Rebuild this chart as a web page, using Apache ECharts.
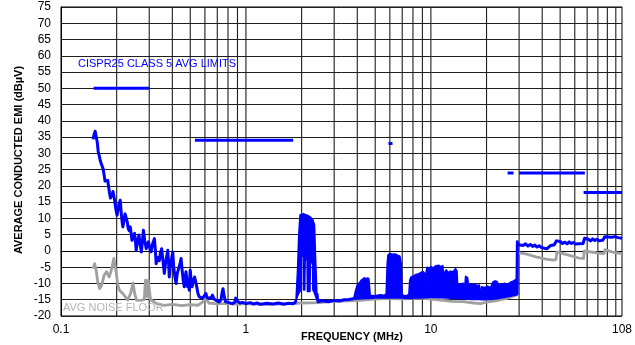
<!DOCTYPE html>
<html>
<head>
<meta charset="utf-8">
<script src="https://cdn.jsdelivr.net/npm/echarts@6.0.0/dist/echarts.min.js"></script>
<style>
  html, body { margin: 0; padding: 0; background: #fff; }
  #chart { width: 635px; height: 345px; }
</style>
</head>
<body>
<div id="chart"></div>
<script>
// Axis setup (frequency in MHz, level in dBµV)
var freqMin = 0.1, freqMax = 108;
var levelMin = -20, levelMax = 75, levelStep = 5;
var freqTickLabels = [0.1, 1, 10, 108];
var gridFreqs = [0.2, 0.3, 0.4, 0.5, 0.6, 0.7, 0.8, 0.9, 1,
                 2, 3, 4, 5, 6, 7, 8, 9, 10,
                 20, 30, 40, 50, 60, 70, 80, 90, 100];

// CISPR25 class 5 average limit segments [freq, level]
var limitLW = [[0.15, 50], [0.30, 50]];
var limitMW = [[0.53, 34], [1.8, 34]];
var limitSW = [[5.9, 33], [6.2, 33]];
var limitCB = [[26, 24], [28, 24]];
var limitVHF = [[30, 24], [68, 24]];
var limitFM = [[67, 18], [108, 18]];

// Measured average emission, low band trace [freq, level]
var traceLow = [
  [0.149, 34.3], [0.151, 35.8], [0.153, 36.8], [0.155, 36.2], [0.157, 33.5], [0.159, 30.5],
  [0.161, 29.2], [0.163, 27.8], [0.165, 26.9], [0.167, 26.6], [0.169, 25.2], [0.171, 23.4],
  [0.173, 21.5], [0.175, 21.2], [0.177, 22.1], [0.179, 21.7], [0.181, 19.6], [0.183, 17.8],
  [0.185, 16.3], [0.187, 16.1], [0.189, 17.3], [0.191, 18.3], [0.193, 17.8], [0.195, 15.6],
  [0.198, 12.8], [0.201, 11.0], [0.203, 11.2], [0.206, 14.4], [0.209, 15.6], [0.211, 12.6],
  [0.214, 9.0], [0.216, 7.4], [0.219, 9.2], [0.222, 11.4], [0.225, 12.0], [0.228, 9.0],
  [0.231, 6.9], [0.234, 6.2], [0.237, 7.4], [0.240, 5.0], [0.242, 3.3], [0.246, 4.6],
  [0.250, 5.4], [0.253, 2.6], [0.255, 0.2], [0.259, 2.8], [0.264, 4.9], [0.268, 2.0],
  [0.272, -0.3], [0.276, 3.4], [0.279, 6.4], [0.284, 3.0], [0.289, 0.7], [0.293, 1.8],
  [0.297, 2.8], [0.302, 1.0], [0.307, -0.3], [0.313, 2.2], [0.320, 3.8], [0.324, 0.0],
  [0.327, -3.9], [0.333, -2.0], [0.340, -3.0], [0.345, -0.5], [0.350, 0.7], [0.356, -3.0],
  [0.362, -6.9], [0.367, -4.0], [0.372, -2.0], [0.378, 0.2], [0.382, -4.0], [0.385, -8.0],
  [0.390, -5.0], [0.396, -2.5], [0.402, -0.3], [0.407, -5.0], [0.413, -8.0], [0.419, -10.0],
  [0.425, -7.0], [0.432, -5.5], [0.440, -4.0], [0.446, -2.3], [0.452, -6.0], [0.458, -9.0],
  [0.464, -11.0], [0.469, -8.5], [0.474, -6.4], [0.479, -9.0], [0.484, -11.0], [0.489, -10.0],
  [0.494, -12.1], [0.497, -8.0], [0.500, -5.9], [0.505, -9.0], [0.512, -11.0], [0.520, -9.0],
  [0.528, -8.0], [0.536, -7.5], [0.542, -11.0], [0.550, -13.0], [0.559, -14.1], [0.570, -13.5],
  [0.582, -14.5], [0.595, -13.8], [0.607, -13.1], [0.618, -14.5], [0.632, -15.1], [0.645, -14.5],
  [0.659, -13.6], [0.672, -14.8], [0.690, -15.2], [0.716, -15.7], [0.733, -15.0], [0.745, -12.5],
  [0.752, -11.6], [0.760, -13.5], [0.775, -15.6], [0.800, -15.8], [0.844, -16.2], [0.870, -15.8],
  [0.880, -14.5], [0.887, -14.1], [0.895, -15.4], [0.930, -16.0], [0.960, -15.8], [1.00, -16.2],
  [1.05, -15.9], [1.10, -16.3], [1.15, -16.0], [1.20, -16.4], [1.30, -16.1], [1.40, -16.3],
  [1.50, -16.0], [1.60, -16.4], [1.70, -16.1], [1.80, -16.2], [1.85, -15.8], [1.865, -15.1]
];

// Switching burst near 2 MHz [freq, upper, lower]
var burstBand = [
  [1.865, -15.1, -15.3], [1.90, -6.0, -14.0], [1.93, 5.0, -13.0], [1.96, 11.0, -12.5],
  [1.98, 11.2, -12.0], [1.99, 11.3, -2.0], [2.04, 11.4, -1.0], [2.05, 11.5, -12.0],
  [2.08, 11.2, -12.0], [2.09, 11.2, -3.0], [2.14, 11.0, -2.0], [2.15, 11.0, -12.5],
  [2.22, 10.5, -12.5], [2.23, 10.4, -4.0], [2.29, 9.8, -3.0], [2.30, 9.6, -12.0],
  [2.35, 8.0, -13.0], [2.38, -2.0, -14.0], [2.42, -13.0, -15.0]
];

// Trace between the burst and the HF activity [freq, level]
var traceMid = [
  [2.42, -13.0], [2.45, -15.6], [2.6, -15.3], [2.8, -15.6], [3.0, -15.2], [3.2, -15.4],
  [3.4, -15.0], [3.6, -14.9], [3.85, -14.6]
];

// HF activity 3.85 - 29 MHz [freq, upper, lower]
var hfBand = [
  [3.85, -14.0, -14.8], [3.92, -12.0, -14.8], [4.0, -10.5, -14.8], [4.1, -9.8, -14.8],
  [4.2, -9.0, -14.7], [4.3, -8.6, -14.7], [4.36, -8.2, -14.7], [4.45, -8.6, -14.6],
  [4.55, -8.3, -14.6], [4.62, -8.5, -14.6], [4.66, -11.0, -14.6], [4.70, -13.6, -14.6],
  [5.0, -13.8, -14.5], [5.3, -13.5, -14.5], [5.6, -13.6, -14.5], [5.73, -13.2, -14.5],
  [5.80, -4.0, -14.5], [5.86, -1.2, -14.5], [6.0, -0.8, -14.5], [6.2, -1.0, -14.5],
  [6.4, -0.9, -14.5], [6.6, -1.3, -14.5], [6.8, -1.6, -14.5], [6.92, -4.0, -14.5],
  [6.99, -13.5, -14.5], [7.3, -13.8, -14.6], [7.6, -13.4, -14.6], [7.68, -9.0, -14.6],
  [7.8, -8.0, -14.6], [8.0, -7.8, -14.5], [8.3, -7.2, -14.5], [8.6, -7.0, -14.5],
  [8.9, -6.5, -14.5], [9.1, -6.4, -14.5], [9.25, -6.8, -14.4], [9.3, -12.5, -14.4],
  [9.45, -6.0, -14.4], [9.55, -5.0, -14.4], [9.8, -5.3, -14.3], [10.0, -4.8, -14.3],
  [10.3, -5.2, -14.3], [10.6, -4.6, -14.3], [11.0, -4.4, -14.4], [11.3, -4.8, -14.4],
  [11.6, -4.5, -14.4], [11.75, -7.5, -14.5], [11.9, -6.5, -14.5], [12.1, -5.8, -14.5],
  [12.4, -6.6, -14.5], [12.8, -6.2, -14.6], [13.2, -6.4, -14.6], [13.6, -5.4, -14.6],
  [13.85, -6.2, -14.6], [13.95, -10.0, -14.7], [14.4, -10.3, -14.7], [14.9, -9.9, -14.8],
  [15.3, -10.2, -14.8], [15.4, -7.8, -14.8], [15.8, -8.2, -14.8], [15.95, -10.0, -14.8],
  [16.5, -10.4, -14.9], [17.2, -10.2, -14.9], [17.8, -10.6, -14.9], [18.3, -10.5, -14.9],
  [18.55, -14.0, -15.0], [18.8, -11.0, -15.0], [19.5, -11.2, -15.0], [20.3, -10.8, -14.9],
  [21.0, -11.3, -14.9], [21.6, -9.6, -14.8], [22.2, -9.2, -14.7], [22.8, -9.4, -14.7],
  [23.3, -10.5, -14.6], [24.0, -10.2, -14.5], [25.0, -9.9, -14.3], [26.0, -10.3, -14.1],
  [27.0, -9.6, -13.9], [28.0, -9.2, -13.7], [28.7, -8.8, -13.6], [29.25, -9.4, -13.5]
];

// VHF trace above 29 MHz [freq, level]
var traceHigh = [
  [29.25, -13.5], [29.35, 2.8], [29.8, 1.9], [30.5, 2.4], [31.5, 1.7], [32.5, 2.2],
  [33.5, 1.5], [34.5, 2.0], [35.5, 1.4], [36.5, 1.8], [37.5, 1.2], [38.5, 1.6],
  [39.5, 1.1], [40.5, 0.9], [41.5, 1.5], [42.5, 0.7], [43.5, 1.3], [44.5, 1.7],
  [45.5, 1.4], [46.5, 1.9], [47.3, 1.6], [47.8, 3.1], [48.5, 2.6], [50, 2.9],
  [51.5, 2.3], [53, 2.7], [54.5, 2.2], [56, 2.8], [57.5, 2.3], [59, 2.6],
  [60.5, 2.1], [62, 2.7], [63.5, 2.2], [65, 2.5], [66.5, 2.3], [67.3, 2.6],
  [67.8, 3.9], [69.5, 3.3], [71, 3.6], [73, 3.1], [75, 3.7], [77, 3.2],
  [79, 3.6], [81, 3.1], [83, 3.7], [85, 3.3], [86.7, 3.5], [87.3, 4.4],
  [89, 3.9], [91, 4.3], [93, 3.8], [95, 4.2], [97, 3.9], [99, 4.4],
  [101, 3.8], [103, 4.1], [105, 3.7], [108, 3.9]
];

// Average noise floor of the receiver [freq, level]
var noiseFloor = [
  [0.149, -5.4], [0.152, -3.9], [0.155, -6.0], [0.158, -9.5], [0.162, -11.6], [0.166, -10.5],
  [0.171, -7.5], [0.176, -6.4], [0.182, -8.0], [0.187, -6.0], [0.193, -2.3], [0.198, -6.0],
  [0.203, -10.5], [0.207, -12.1], [0.215, -13.0], [0.222, -14.0], [0.230, -15.1], [0.238, -13.0],
  [0.245, -9.8], [0.250, -13.0], [0.256, -15.1], [0.270, -15.2], [0.282, -15.0], [0.286, -9.0],
  [0.289, -8.5], [0.292, -14.0], [0.296, -9.0], [0.300, -9.5], [0.305, -15.0], [0.330, -16.2],
  [0.360, -16.7], [0.400, -16.4], [0.450, -16.8], [0.500, -16.5], [0.550, -16.7], [0.580, -15.8],
  [0.607, -14.6], [0.630, -16.0], [0.700, -16.3], [0.800, -16.1], [0.900, -16.4], [1.0, -16.2],
  [1.3, -16.5], [1.6, -16.3], [2.0, -16.0], [2.5, -15.9], [3.0, -15.5], [4.0, -15.3],
  [5.0, -14.8], [6.0, -14.6], [7.0, -14.8], [8.0, -14.5], [9.0, -14.6], [10.0, -14.8],
  [11.0, -15.0], [13.0, -15.5], [15.0, -15.6], [17.0, -16.0], [18.6, -16.2], [20.0, -15.7],
  [23.0, -15.2], [26.0, -14.5], [29.0, -13.6], [29.3, -13.2], [29.4, -0.5], [30.0, -0.3],
  [33.0, -1.0], [37.0, -1.8], [42.0, -2.5], [46.0, -2.8], [47.5, -2.6], [48.0, -0.3],
  [52.0, -0.8], [58.0, -1.6], [63.0, -2.2], [67.0, -2.3], [67.5, 0.0], [75.0, -0.4],
  [80.0, -0.7], [86.5, -0.8], [87.3, 0.4], [95.0, -0.3], [102.0, -0.6], [108.0, -0.8]
];

var BLUE = '#0000ff';
var GREY = '#a0a0a0';
var GRID = '#1e1e1e';
var FONT = 'Arial, "Liberation Sans", sans-serif';

function traceSeries(data, color, width, z) {
  return {
    type: 'line', data: data, z: z, silent: true,
    showSymbol: false, symbol: 'none', clip: true,
    lineStyle: { color: color, width: width, join: 'round' }
  };
}

function bandSeries(rows, z) {
  return {
    type: 'custom', coordinateSystem: 'cartesian2d', z: z, silent: true,
    data: [[rows[0][0], rows[0][1]]],
    renderItem: function (params, api) {
      var pts = [];
      for (var i = 0; i < rows.length; i++) pts.push(api.coord([rows[i][0], rows[i][1]]));
      for (var j = rows.length - 1; j >= 0; j--) pts.push(api.coord([rows[j][0], rows[j][2]]));
      return {
        type: 'polygon', shape: { points: pts },
        style: { fill: BLUE, stroke: BLUE, lineWidth: 1.5, lineJoin: 'round' }
      };
    }
  };
}

var chart = echarts.init(document.getElementById('chart'), null, { renderer: 'canvas' });

chart.setOption({
  animation: false,
  backgroundColor: '#fff',
  grid: { left: 61, right: 12, top: 7, bottom: 29, show: true, borderColor: '#000', borderWidth: 1 },
  xAxis: {
    type: 'log', logBase: 10, min: freqMin, max: freqMax,
    axisLine: { show: true, lineStyle: { color: '#000', width: 1 } },
    axisTick: { show: false },
    splitLine: { show: false },
    axisLabel: {
      customValues: freqTickLabels,
      color: '#000', fontSize: 12, fontFamily: FONT, margin: 8,
      formatter: function (v) { return String(+v.toPrecision(3)); }
    }
  },
  yAxis: {
    type: 'value', min: levelMin, max: levelMax, interval: levelStep,
    axisLine: { show: true, lineStyle: { color: '#000', width: 1 } },
    axisTick: { show: false },
    splitLine: { show: true, lineStyle: { color: GRID, width: 1 } },
    axisLabel: { color: '#000', fontSize: 12, fontFamily: FONT, margin: 10 }
  },
  graphic: [
    {
      type: 'text', x: 19, y: 160, rotation: Math.PI / 2,
      style: { text: 'AVERAGE CONDUCTED EMI (dBµV)', fill: '#000', font: 'bold 11px ' + FONT, align: 'center', verticalAlign: 'middle' }
    },
    {
      type: 'text', x: 352, y: 337,
      style: { text: 'FREQUENCY (MHz)', fill: '#000', font: 'bold 11px ' + FONT, align: 'center', verticalAlign: 'middle' }
    },
    {
      type: 'text', x: 78, y: 64, z: 10,
      style: { text: 'CISPR25 CLASS 5 AVG LIMITS', fill: BLUE, font: '11px ' + FONT, align: 'left', verticalAlign: 'middle' }
    },
    {
      type: 'text', x: 63, y: 308, z: 10,
      style: { text: 'AVG NOISE FLOOR', fill: '#b4b4b4', font: '11px ' + FONT, align: 'left', verticalAlign: 'middle' }
    }
  ],
  series: [
    {
      // vertical frequency grid (1-2-...-9 per decade)
      type: 'custom', coordinateSystem: 'cartesian2d', z: 1, silent: true,
      data: gridFreqs.map(function (f) { return [f, levelMin]; }),
      renderItem: function (params, api) {
        var a = api.coord([api.value(0), levelMin]);
        var b = api.coord([api.value(0), levelMax]);
        return { type: 'line', shape: { x1: a[0], y1: a[1], x2: b[0], y2: b[1] }, style: { stroke: GRID, lineWidth: 1.1 } };
      }
    },
    traceSeries(noiseFloor, GREY, 2.8, 3),
    traceSeries(traceLow, BLUE, 3, 4),
    bandSeries(burstBand, 4),
    traceSeries(traceMid, BLUE, 3, 4),
    bandSeries(hfBand, 4),
    traceSeries(traceHigh, BLUE, 3, 4),
    traceSeries(limitLW, BLUE, 3, 5),
    traceSeries(limitMW, BLUE, 3, 5),
    traceSeries(limitSW, BLUE, 3, 5),
    traceSeries(limitCB, BLUE, 3, 5),
    traceSeries(limitVHF, BLUE, 3, 5),
    traceSeries(limitFM, BLUE, 3, 5)
  ]
});
</script>
</body>
</html>
